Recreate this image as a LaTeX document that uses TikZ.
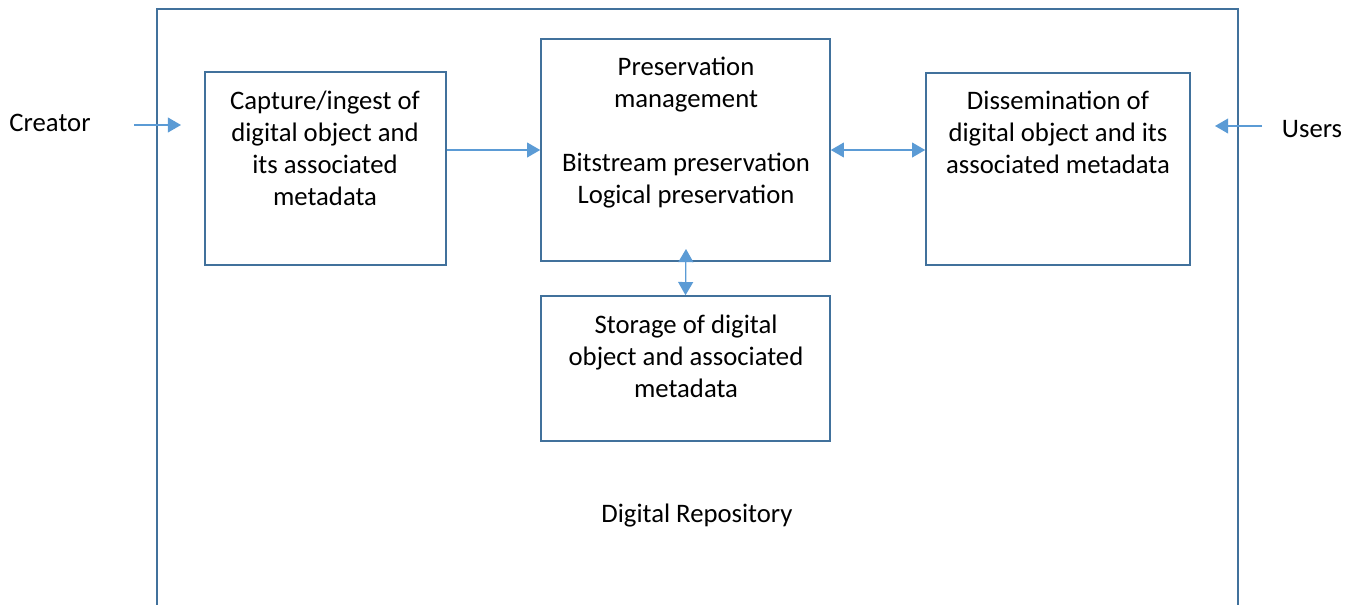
\documentclass[tikz,border=0pt]{standalone}
\usepackage{fontspec}
\setmainfont{Carlito}
\usepackage{xcolor}
\usetikzlibrary{arrows.meta}
\definecolor{boxcolor}{HTML}{41719C}
\definecolor{arrowcolor}{HTML}{5B9BD5}

\tikzset{
  block/.style={draw=boxcolor, line width=0.9pt, rectangle, inner sep=0pt},
  blocktext/.style={align=center, font=\fontsize{15.2pt}{18.2pt}\selectfont},
  flow/.style={draw=arrowcolor, line width=0.7pt, -{Triangle[width=8.5pt,length=7.5pt]}},
  biflow/.style={draw=arrowcolor, line width=0.7pt, {Triangle[width=8.5pt,length=7.5pt]}-{Triangle[width=8.5pt,length=7.5pt]}},
}

\begin{document}
\begin{tikzpicture}[x=0.02cm, y=-0.02cm]%
\useasboundingbox (0,0) rectangle (1353,605);%
% repository frame, open at the bottom
\draw[boxcolor, line width=0.9pt] (157,605) -- (157,9) -- (1238,9) -- (1238,605);%
\node[blocktext] (repo) at (697,516) {Digital Repository};%
% boxes
\node[block, minimum width=241*0.02cm, minimum height=193*0.02cm] (capture) at (325.5,168.5) {};%
\node[block, minimum width=289*0.02cm, minimum height=222*0.02cm] (preserve) at (685.5,150) {};%
\node[block, minimum width=264*0.02cm, minimum height=192*0.02cm] (dissem) at (1058,169) {};%
\node[block, minimum width=289*0.02cm, minimum height=145*0.02cm] (storage) at (685.5,368.5) {};%
% texts
\node[blocktext] (capturetxt) at (325,148) {Capture/ingest of\\digital object and\\its associated\\metadata};%
\node[blocktext] (preservetxt) at (686,133) {Preservation\\management\\[18.2pt]Bitstream preservation\\Logical preservation};%
\node[blocktext] (dissemtxt) at (1058,132) {Dissemination of\\digital object and its\\associated metadata};%
\node[blocktext] (storagetxt) at (686,356) {Storage of digital\\object and associated\\metadata};%
\node[blocktext] (creator) at (50,123) {Creator};%
\node[blocktext] (users) at (1312,129) {Users};%
% connectors
\coordinate (creatorstart) at (134,125);%
\coordinate (creatorend) at (181,125);%
\coordinate (usersstart) at (1262,126);%
\coordinate (usersend) at (1215,126);%
\coordinate (storetop) at (686,249);%
\draw[flow] (creatorstart) -- (creatorend);%
\draw[flow] (usersstart) -- (usersend);%
\draw[flow] (capture.east |- 0,150) -- (preserve.west |- 0,150);%
\draw[biflow] (preserve.east |- 0,150) -- (dissem.west |- 0,150);%
\draw[biflow] (storetop) -- (storage.north);%
\end{tikzpicture}
\end{document}
